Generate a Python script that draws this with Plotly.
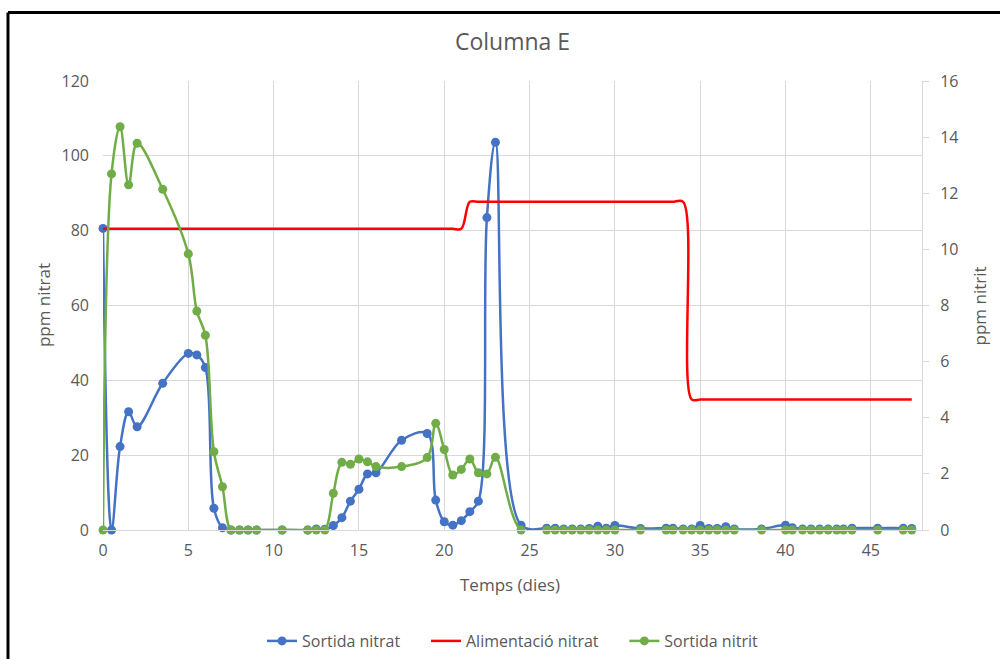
import plotly.graph_objects as go

# Sampling days (shared by all series)
dies = [0, 0.5, 1, 1.5, 2, 3.5, 5, 5.5, 6, 6.5, 7, 7.5, 8, 8.5, 9, 10.5, 12, 12.5, 13,
        13.5, 14, 14.5, 15, 15.5, 16, 17.5, 19, 19.5, 20, 20.5, 21, 21.5, 22, 22.5, 23,
        24.5, 26, 26.5, 27, 27.5, 28, 28.5, 29, 29.5, 30, 31.5, 33, 33.4, 34, 34.5, 35,
        35.5, 36, 36.5, 37, 38.6, 40, 40.4, 41, 41.5, 42, 42.5, 43, 43.4, 43.9, 45.4,
        46.9, 47.4]

# Outlet nitrate (ppm, left axis)
sortida_nitrat = [80.6, 0, 22.3, 31.6, 27.6, 39.2, 47.2, 46.8, 43.4, 5.8, 0.6, 0, 0, 0, 0,
                  0, 0, 0.3, 0.2, 1.2, 3.3, 7.7, 10.9, 15.0, 15.3, 24.0, 25.8, 8.0, 2.2,
                  1.3, 2.5, 4.9, 7.7, 83.5, 103.6, 1.3, 0.5, 0.5, 0.3, 0.3, 0.3, 0.4, 1.0,
                  0.5, 1.2, 0.4, 0.5, 0.5, 0.3, 0.3, 1.2, 0.4, 0.4, 0.9, 0.3, 0.3, 1.3,
                  0.6, 0.3, 0.3, 0.3, 0.3, 0.3, 0.3, 0.5, 0.5, 0.5, 0.4]

# Feed nitrate (ppm, left axis)
alimentacio_nitrat = [80.5, 80.5, 80.5, 80.5, 80.5, 80.5, 80.5, 80.5, 80.5, 80.5, 80.5,
                      80.5, 80.5, 80.5, 80.5, 80.5, 80.5, 80.5, 80.5, 80.5, 80.5, 80.5,
                      80.5, 80.5, 80.5, 80.5, 80.5, 80.5, 80.5, 80.5, 80.5, 87.7, 87.7,
                      87.7, 87.7, 87.7, 87.7, 87.7, 87.7, 87.7, 87.7, 87.7, 87.7, 87.7,
                      87.7, 87.7, 87.7, 87.7, 87.7, 34.9, 34.9, 34.9, 34.9, 34.9, 34.9,
                      34.9, 34.9, 34.9, 34.9, 34.9, 34.9, 34.9, 34.9, 34.9, 34.9, 34.9,
                      34.9, 34.9]

# Outlet nitrite (ppm, right axis)
sortida_nitrit = [0, 12.69, 14.37, 12.3, 13.78, 12.14, 9.84, 7.8, 6.94, 2.79, 1.54, 0, 0,
                  0, 0, 0, 0, 0, 0, 1.31, 2.41, 2.34, 2.53, 2.43, 2.26, 2.26, 2.58, 3.8,
                  2.87, 1.96, 2.16, 2.53, 2.04, 2.0, 2.59, 0, 0, 0, 0, 0, 0, 0, 0, 0, 0,
                  0, 0, 0, 0, 0, 0, 0, 0, 0, 0, 0, 0, 0, 0, 0, 0, 0, 0, 0, 0, 0, 0, 0]

x_ticks = [0, 5, 10, 15, 20, 25, 30, 35, 40, 45]
y1_ticks = [0, 20, 40, 60, 80, 100, 120]
y2_ticks = [0, 2, 4, 6, 8, 10, 12, 14, 16]

BLUE = "#4472C4"
GREEN = "#70AD47"
RED = "#FF0000"
TXT = "#595959"
GRID = "#D9D9D9"
FONT = "Open Sans"
NB = "\u00a0"  # extra spacing between legend entries

fig = go.Figure()

fig.add_trace(go.Scatter(
    x=dies, y=sortida_nitrat, name="Sortida nitrat" + NB * 5, mode="lines+markers",
    line=dict(color=BLUE, width=2.5, shape="spline", smoothing=1),
    marker=dict(color=BLUE, size=9), cliponaxis=False, yaxis="y"))

fig.add_trace(go.Scatter(
    x=dies, y=alimentacio_nitrat, name="Alimentació nitrat" + NB * 5, mode="lines",
    line=dict(color=RED, width=2.5, shape="spline", smoothing=1),
    cliponaxis=False, yaxis="y"))

fig.add_trace(go.Scatter(
    x=dies, y=sortida_nitrit, name="Sortida nitrit", mode="lines+markers",
    line=dict(color=GREEN, width=2.5, shape="spline", smoothing=1),
    marker=dict(color=GREEN, size=9), cliponaxis=False, yaxis="y2"))

fig.update_layout(
    width=1000, height=659,
    margin=dict(l=103, r=78, t=81, b=129, autoexpand=False),
    paper_bgcolor="white", plot_bgcolor="white",
    font=dict(family=FONT, color=TXT, size=16),
    title=dict(text="Columna E", x=0.5, xref="paper", xanchor="center",
               y=0.9363, yref="container", yanchor="middle",
               font=dict(family=FONT, size=23, color=TXT)),
    xaxis=dict(range=[0, 48], tickvals=x_ticks, showgrid=True, gridcolor=GRID,
               gridwidth=1, zeroline=False, showline=True, linecolor=GRID,
               ticks="", ticklabelstandoff=6, tickfont=dict(size=16, color=TXT)),
    yaxis=dict(range=[0, 120], tickvals=y1_ticks, showgrid=True, gridcolor=GRID,
               gridwidth=1, zeroline=False, showline=False, ticks="",
               ticklabelstandoff=13, tickfont=dict(size=16, color=TXT)),
    yaxis2=dict(range=[0, 16], tickvals=y2_ticks, overlaying="y", side="right",
                showgrid=False, zeroline=False, showline=True, linecolor=GRID,
                ticks="outside", ticklen=6, tickcolor=GRID, ticklabelstandoff=8,
                tickfont=dict(size=16, color=TXT)),
    legend=dict(orientation="h", x=0.5, xanchor="center", xref="paper",
                y=0.0273, yref="container", yanchor="middle",
                font=dict(size=16, color=TXT), bgcolor="rgba(0,0,0,0)"),
    showlegend=True,
)

# Axis titles
fig.add_annotation(text="ppm nitrat", xref="paper", yref="paper", x=-0.0725, y=0.5,
                   textangle=-90, showarrow=False, xanchor="center", yanchor="middle",
                   font=dict(size=17, color=TXT))
fig.add_annotation(text="ppm nitrit", xref="paper", yref="paper", x=1.0708, y=0.5,
                   textangle=-90, showarrow=False, xanchor="center", yanchor="middle",
                   font=dict(size=17, color=TXT))
fig.add_annotation(text="Temps (dies)", xref="paper", yref="paper", x=0.497, y=-0.122,
                   showarrow=False, xanchor="center", yanchor="middle",
                   font=dict(size=17, color=TXT))

# Frame drawn around the chart (top and left edges)
fig.add_shape(type="line", xref="paper", yref="paper", x0=-0.116, x1=1.2,
              y0=1.1525, y1=1.1525, line=dict(color="black", width=3))
fig.add_shape(type="line", xref="paper", yref="paper", x0=-0.116, x1=-0.116,
              y0=1.1525, y1=-0.4, line=dict(color="black", width=3))

fig.write_html("out.html")
